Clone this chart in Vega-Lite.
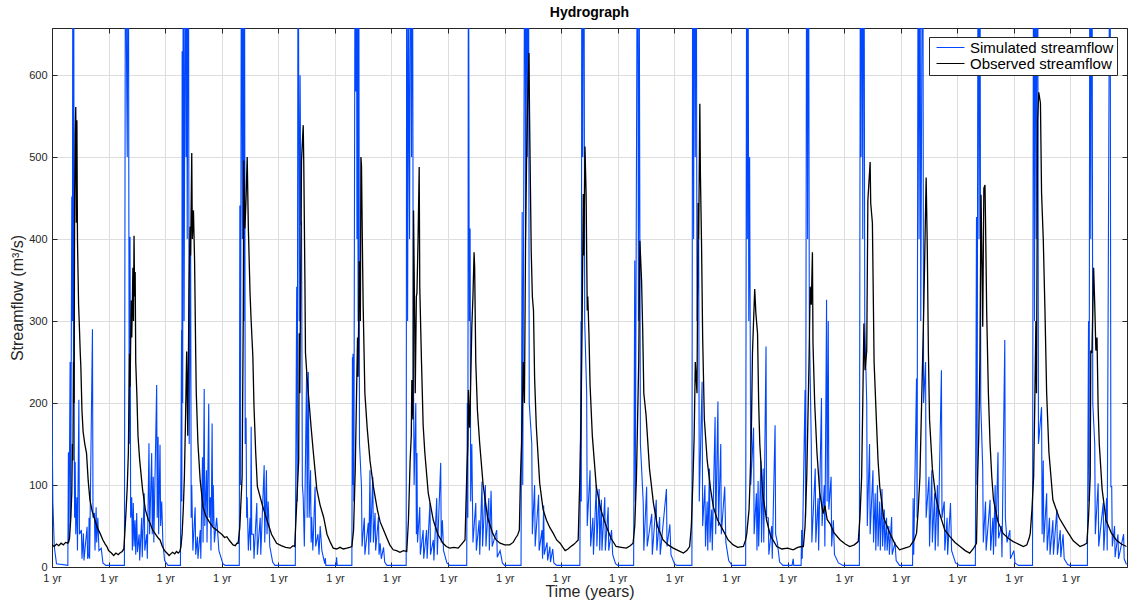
{
"$schema":"https://vega.github.io/schema/vega-lite/v6.json",
"width":1075,"height":539,
"autosize":{"type":"none"},
"padding":{"left":52,"top":28,"right":4,"bottom":38},
"background":"white",
"config":{
 "font":"Liberation Sans",
 "view":{"stroke":"#262626","strokeWidth":1},
 "axis":{"domainColor":"#262626","tickColor":"#262626","labelColor":"#262626","titleColor":"#262626","gridColor":"#dddddd","gridWidth":1,"tickSize":-5,"labelFontSize":11,"titleFontSize":16,"titleFontWeight":"normal","labelFont":"Liberation Sans","titleFont":"Liberation Sans","labelPadding":10,"labelFlush":false}
},
"title":{"text":"Hydrograph","fontSize":14,"fontWeight":"bold","color":"#000000","offset":8,"font":"Liberation Sans"},
"datasets":{
"sim":[
{"t":0,"q":200},{"t":0.015,"q":80},{"t":0.04,"q":25},{"t":0.08,"q":4},{"t":0.28,"q":2},{"t":0.29,"q":140},{"t":0.30,"q":30},{"t":0.32,"q":250},{"t":0.33,"q":60},{"t":0.35,"q":452},{"t":0.36,"q":300},{"t":0.37,"q":900},{"t":0.38,"q":200},{"t":0.385,"q":700},{"t":0.395,"q":120},{"t":0.40,"q":60},{"t":0.41,"q":128},{"t":0.42,"q":40},{"t":0.44,"q":85},{"t":0.45,"q":20},{"t":0.475,"q":204},{"t":0.485,"q":40},{"t":0.52,"q":45},{"t":0.53,"q":10},{"t":0.555,"q":41},{"t":0.565,"q":8},{"t":0.62,"q":49},{"t":0.63,"q":10},{"t":0.65,"q":15},{"t":0.655,"q":60},{"t":0.665,"q":10},{"t":0.715,"q":290},{"t":0.725,"q":60},{"t":0.75,"q":66},{"t":0.76,"q":20},{"t":0.78,"q":73},{"t":0.79,"q":30},{"t":0.81,"q":60},{"t":0.83,"q":20},{"t":0.87,"q":23},{"t":0.90,"q":5},{"t":0.95,"q":2},
{"t":1.28,"q":2},{"t":1.30,"q":900},{"t":1.315,"q":640},{"t":1.33,"q":500},{"t":1.348,"q":900},{"t":1.365,"q":150},{"t":1.379,"q":403},{"t":1.39,"q":60},{"t":1.409,"q":85},{"t":1.42,"q":20},{"t":1.437,"q":78},{"t":1.45,"q":25},{"t":1.467,"q":57},{"t":1.48,"q":15},{"t":1.497,"q":66},{"t":1.51,"q":18},{"t":1.54,"q":40},{"t":1.55,"q":8},{"t":1.585,"q":60},{"t":1.595,"q":12},{"t":1.63,"q":90},{"t":1.64,"q":20},{"t":1.674,"q":40},{"t":1.685,"q":10},{"t":1.714,"q":151},{"t":1.725,"q":40},{"t":1.762,"q":139},{"t":1.772,"q":40},{"t":1.79,"q":110},{"t":1.80,"q":30},{"t":1.85,"q":222},{"t":1.86,"q":60},{"t":1.875,"q":159},{"t":1.885,"q":40},{"t":1.909,"q":149},{"t":1.92,"q":50},{"t":1.939,"q":80},{"t":1.96,"q":30},{"t":1.99,"q":8},{"t":2.05,"q":2},
{"t":2.27,"q":2},{"t":2.29,"q":289},{"t":2.295,"q":80},{"t":2.30,"q":629},{"t":2.31,"q":200},{"t":2.32,"q":900},{"t":2.335,"q":300},{"t":2.36,"q":900},{"t":2.37,"q":500},{"t":2.38,"q":900},{"t":2.39,"q":400},{"t":2.41,"q":900},{"t":2.425,"q":150},{"t":2.45,"q":400},{"t":2.46,"q":60},{"t":2.47,"q":100},{"t":2.49,"q":20},{"t":2.53,"q":73},{"t":2.54,"q":15},{"t":2.57,"q":37},{"t":2.58,"q":10},{"t":2.62,"q":45},{"t":2.63,"q":10},{"t":2.66,"q":134},{"t":2.67,"q":30},{"t":2.69,"q":217},{"t":2.70,"q":50},{"t":2.73,"q":118},{"t":2.74,"q":30},{"t":2.77,"q":199},{"t":2.78,"q":60},{"t":2.80,"q":85},{"t":2.81,"q":20},{"t":2.83,"q":175},{"t":2.84,"q":50},{"t":2.85,"q":100},{"t":2.87,"q":30},{"t":2.91,"q":60},{"t":2.95,"q":20},{"t":3.02,"q":4},{"t":3.06,"q":2},
{"t":3.31,"q":2},{"t":3.32,"q":441},{"t":3.33,"q":100},{"t":3.35,"q":900},{"t":3.365,"q":400},{"t":3.38,"q":900},{"t":3.39,"q":300},{"t":3.40,"q":900},{"t":3.415,"q":150},{"t":3.43,"q":182},{"t":3.44,"q":60},{"t":3.45,"q":85},{"t":3.47,"q":20},{"t":3.50,"q":60},{"t":3.51,"q":20},{"t":3.52,"q":171},{"t":3.53,"q":40},{"t":3.56,"q":40},{"t":3.57,"q":10},{"t":3.62,"q":78},{"t":3.63,"q":15},{"t":3.68,"q":60},{"t":3.69,"q":15},{"t":3.75,"q":124},{"t":3.76,"q":30},{"t":3.79,"q":118},{"t":3.80,"q":40},{"t":3.82,"q":80},{"t":3.85,"q":25},{"t":3.90,"q":6},{"t":3.94,"q":2},
{"t":4.30,"q":2},{"t":4.325,"q":342},{"t":4.335,"q":80},{"t":4.35,"q":900},{"t":4.37,"q":300},{"t":4.385,"q":600},{"t":4.40,"q":419},{"t":4.41,"q":420},{"t":4.425,"q":100},{"t":4.44,"q":85},{"t":4.46,"q":25},{"t":4.50,"q":238},{"t":4.51,"q":60},{"t":4.53,"q":238},{"t":4.545,"q":60},{"t":4.57,"q":118},{"t":4.58,"q":30},{"t":4.59,"q":61},{"t":4.61,"q":20},{"t":4.65,"q":98},{"t":4.66,"q":25},{"t":4.70,"q":40},{"t":4.72,"q":15},{"t":4.74,"q":50},{"t":4.77,"q":20},{"t":4.82,"q":4},{"t":4.83,"q":11},{"t":4.84,"q":2},{"t":5.02,"q":2},{"t":5.03,"q":12},{"t":5.04,"q":2},
{"t":5.30,"q":2},{"t":5.31,"q":256},{"t":5.315,"q":100},{"t":5.32,"q":260},{"t":5.335,"q":80},{"t":5.36,"q":900},{"t":5.37,"q":580},{"t":5.38,"q":900},{"t":5.39,"q":400},{"t":5.40,"q":900},{"t":5.41,"q":300},{"t":5.42,"q":900},{"t":5.435,"q":150},{"t":5.47,"q":98},{"t":5.48,"q":25},{"t":5.52,"q":60},{"t":5.53,"q":15},{"t":5.59,"q":54},{"t":5.60,"q":15},{"t":5.62,"q":118},{"t":5.63,"q":30},{"t":5.67,"q":110},{"t":5.68,"q":30},{"t":5.71,"q":66},{"t":5.72,"q":20},{"t":5.77,"q":61},{"t":5.78,"q":15},{"t":5.80,"q":29},{"t":5.82,"q":10},{"t":5.86,"q":24},{"t":5.88,"q":6},{"t":5.92,"q":2},
{"t":6.26,"q":2},{"t":6.27,"q":900},{"t":6.285,"q":300},{"t":6.30,"q":700},{"t":6.32,"q":400},{"t":6.34,"q":900},{"t":6.355,"q":500},{"t":6.37,"q":900},{"t":6.385,"q":280},{"t":6.40,"q":100},{"t":6.43,"q":200},{"t":6.44,"q":40},{"t":6.45,"q":139},{"t":6.46,"q":30},{"t":6.50,"q":73},{"t":6.51,"q":15},{"t":6.56,"q":45},{"t":6.57,"q":10},{"t":6.62,"q":45},{"t":6.63,"q":10},{"t":6.68,"q":78},{"t":6.69,"q":15},{"t":6.74,"q":33},{"t":6.75,"q":8},{"t":6.80,"q":84},{"t":6.81,"q":15},{"t":6.87,"q":127},{"t":6.88,"q":30},{"t":6.90,"q":57},{"t":6.92,"q":20},{"t":6.98,"q":5},{"t":7.03,"q":2},
{"t":7.33,"q":2},{"t":7.34,"q":200},{"t":7.35,"q":60},{"t":7.36,"q":900},{"t":7.375,"q":300},{"t":7.39,"q":413},{"t":7.40,"q":80},{"t":7.42,"q":150},{"t":7.44,"q":30},{"t":7.49,"q":78},{"t":7.50,"q":20},{"t":7.55,"q":57},{"t":7.56,"q":15},{"t":7.60,"q":104},{"t":7.61,"q":25},{"t":7.66,"q":100},{"t":7.67,"q":25},{"t":7.72,"q":84},{"t":7.73,"q":20},{"t":7.76,"q":93},{"t":7.78,"q":25},{"t":7.86,"q":45},{"t":7.87,"q":12},{"t":7.92,"q":20},{"t":7.96,"q":5},{"t":8.00,"q":2},
{"t":8.29,"q":2},{"t":8.31,"q":433},{"t":8.32,"q":100},{"t":8.36,"q":900},{"t":8.37,"q":400},{"t":8.385,"q":900},{"t":8.40,"q":500},{"t":8.42,"q":900},{"t":8.435,"q":200},{"t":8.48,"q":150},{"t":8.49,"q":40},{"t":8.53,"q":100},{"t":8.54,"q":25},{"t":8.60,"q":88},{"t":8.61,"q":20},{"t":8.66,"q":45},{"t":8.67,"q":10},{"t":8.69,"q":75},{"t":8.70,"q":15},{"t":8.75,"q":30},{"t":8.76,"q":8},{"t":8.80,"q":25},{"t":8.81,"q":6},{"t":8.85,"q":22},{"t":8.87,"q":5},{"t":8.92,"q":2},
{"t":9.33,"q":2},{"t":9.35,"q":300},{"t":9.355,"q":80},{"t":9.365,"q":900},{"t":9.38,"q":500},{"t":9.40,"q":900},{"t":9.415,"q":300},{"t":9.45,"q":212},{"t":9.46,"q":50},{"t":9.51,"q":118},{"t":9.52,"q":25},{"t":9.56,"q":60},{"t":9.57,"q":15},{"t":9.62,"q":100},{"t":9.63,"q":25},{"t":9.67,"q":95},{"t":9.68,"q":20},{"t":9.71,"q":82},{"t":9.72,"q":20},{"t":9.77,"q":85},{"t":9.78,"q":20},{"t":9.83,"q":73},{"t":9.84,"q":20},{"t":9.89,"q":45},{"t":9.91,"q":15},{"t":9.96,"q":4},{"t":10.00,"q":2},
{"t":10.28,"q":2},{"t":10.30,"q":374},{"t":10.31,"q":80},{"t":10.35,"q":900},{"t":10.365,"q":300},{"t":10.38,"q":700},{"t":10.40,"q":150},{"t":10.45,"q":78},{"t":10.46,"q":20},{"t":10.51,"q":98},{"t":10.52,"q":25},{"t":10.60,"q":65},{"t":10.61,"q":15},{"t":10.68,"q":82},{"t":10.69,"q":20},{"t":10.74,"q":61},{"t":10.75,"q":15},{"t":10.86,"q":95},{"t":10.87,"q":25},{"t":10.92,"q":52},{"t":10.94,"q":15},{"t":11.00,"q":4},{"t":11.04,"q":2},
{"t":11.31,"q":2},{"t":11.325,"q":900},{"t":11.34,"q":400},{"t":11.355,"q":900},{"t":11.37,"q":500},{"t":11.385,"q":900},{"t":11.40,"q":300},{"t":11.43,"q":400},{"t":11.44,"q":80},{"t":11.49,"q":226},{"t":11.50,"q":50},{"t":11.54,"q":100},{"t":11.55,"q":25},{"t":11.58,"q":80},{"t":11.59,"q":20},{"t":11.62,"q":120},{"t":11.63,"q":30},{"t":11.66,"q":70},{"t":11.67,"q":20},{"t":11.72,"q":183},{"t":11.73,"q":40},{"t":11.77,"q":202},{"t":11.78,"q":50},{"t":11.82,"q":150},{"t":11.83,"q":40},{"t":11.89,"q":98},{"t":11.91,"q":30},{"t":11.96,"q":8},{"t":12.02,"q":2},
{"t":12.26,"q":2},{"t":12.28,"q":900},{"t":12.29,"q":400},{"t":12.30,"q":900},{"t":12.315,"q":300},{"t":12.33,"q":500},{"t":12.35,"q":100},{"t":12.40,"q":170},{"t":12.41,"q":40},{"t":12.45,"q":90},{"t":12.46,"q":20},{"t":12.48,"q":105},{"t":12.49,"q":25},{"t":12.53,"q":130},{"t":12.54,"q":30},{"t":12.57,"q":120},{"t":12.58,"q":30},{"t":12.62,"q":269},{"t":12.63,"q":60},{"t":12.66,"q":60},{"t":12.67,"q":15},{"t":12.72,"q":50},{"t":12.73,"q":10},{"t":12.78,"q":173},{"t":12.79,"q":40},{"t":12.82,"q":30},{"t":12.86,"q":6},{"t":12.92,"q":2},{"t":13.08,"q":2},{"t":13.10,"q":10},{"t":13.11,"q":2},
{"t":13.24,"q":2},{"t":13.25,"q":45},{"t":13.26,"q":10},{"t":13.31,"q":216},{"t":13.32,"q":60},{"t":13.34,"q":900},{"t":13.355,"q":400},{"t":13.37,"q":900},{"t":13.385,"q":300},{"t":13.42,"q":150},{"t":13.43,"q":30},{"t":13.49,"q":120},{"t":13.50,"q":30},{"t":13.54,"q":84},{"t":13.55,"q":20},{"t":13.60,"q":206},{"t":13.61,"q":50},{"t":13.65,"q":100},{"t":13.66,"q":25},{"t":13.69,"q":326},{"t":13.70,"q":80},{"t":13.72,"q":300},{"t":13.73,"q":70},{"t":13.77,"q":110},{"t":13.78,"q":25},{"t":13.81,"q":57},{"t":13.83,"q":15},{"t":13.90,"q":5},{"t":13.98,"q":2},
{"t":14.27,"q":2},{"t":14.29,"q":900},{"t":14.30,"q":500},{"t":14.315,"q":900},{"t":14.33,"q":400},{"t":14.35,"q":900},{"t":14.365,"q":300},{"t":14.40,"q":200},{"t":14.41,"q":50},{"t":14.45,"q":150},{"t":14.46,"q":40},{"t":14.51,"q":118},{"t":14.52,"q":30},{"t":14.55,"q":90},{"t":14.56,"q":20},{"t":14.59,"q":100},{"t":14.60,"q":25},{"t":14.63,"q":80},{"t":14.64,"q":20},{"t":14.67,"q":95},{"t":14.68,"q":25},{"t":14.71,"q":70},{"t":14.72,"q":20},{"t":14.75,"q":60},{"t":14.76,"q":20},{"t":14.79,"q":50},{"t":14.80,"q":15},{"t":14.84,"q":61},{"t":14.85,"q":15},{"t":14.90,"q":30},{"t":14.92,"q":8},{"t":14.98,"q":2},
{"t":15.21,"q":2},{"t":15.22,"q":84},{"t":15.23,"q":15},{"t":15.28,"q":230},{"t":15.29,"q":60},{"t":15.31,"q":900},{"t":15.325,"q":400},{"t":15.34,"q":900},{"t":15.355,"q":300},{"t":15.39,"q":900},{"t":15.405,"q":200},{"t":15.44,"q":250},{"t":15.45,"q":60},{"t":15.50,"q":110},{"t":15.51,"q":25},{"t":15.55,"q":118},{"t":15.56,"q":30},{"t":15.60,"q":90},{"t":15.61,"q":20},{"t":15.65,"q":100},{"t":15.66,"q":25},{"t":15.72,"q":240},{"t":15.73,"q":60},{"t":15.77,"q":80},{"t":15.78,"q":20},{"t":15.82,"q":60},{"t":15.83,"q":15},{"t":15.88,"q":78},{"t":15.90,"q":20},{"t":15.97,"q":5},{"t":16.04,"q":2},
{"t":16.32,"q":2},{"t":16.34,"q":427},{"t":16.35,"q":100},{"t":16.37,"q":900},{"t":16.385,"q":400},{"t":16.40,"q":900},{"t":16.415,"q":200},{"t":16.45,"q":120},{"t":16.46,"q":30},{"t":16.50,"q":80},{"t":16.51,"q":20},{"t":16.58,"q":82},{"t":16.59,"q":20},{"t":16.63,"q":60},{"t":16.64,"q":15},{"t":16.67,"q":100},{"t":16.68,"q":25},{"t":16.72,"q":140},{"t":16.73,"q":35},{"t":16.78,"q":50},{"t":16.79,"q":12},{"t":16.84,"q":277},{"t":16.85,"q":60},{"t":16.88,"q":30},{"t":16.93,"q":45},{"t":16.94,"q":10},{"t":17.00,"q":20},{"t":17.02,"q":5},{"t":17.08,"q":2},
{"t":17.33,"q":2},{"t":17.35,"q":900},{"t":17.365,"q":300},{"t":17.38,"q":900},{"t":17.395,"q":400},{"t":17.42,"q":900},{"t":17.435,"q":150},{"t":17.49,"q":195},{"t":17.50,"q":40},{"t":17.52,"q":130},{"t":17.53,"q":30},{"t":17.58,"q":90},{"t":17.59,"q":20},{"t":17.63,"q":60},{"t":17.64,"q":15},{"t":17.69,"q":57},{"t":17.70,"q":15},{"t":17.76,"q":70},{"t":17.77,"q":15},{"t":17.82,"q":45},{"t":17.83,"q":12},{"t":17.87,"q":40},{"t":17.89,"q":10},{"t":17.95,"q":3},{"t":17.99,"q":2},
{"t":18.30,"q":2},{"t":18.32,"q":300},{"t":18.33,"q":80},{"t":18.345,"q":900},{"t":18.36,"q":400},{"t":18.38,"q":900},{"t":18.395,"q":200},{"t":18.43,"q":150},{"t":18.44,"q":40},{"t":18.49,"q":102},{"t":18.50,"q":25},{"t":18.58,"q":78},{"t":18.59,"q":20},{"t":18.64,"q":84},{"t":18.65,"q":20},{"t":18.70,"q":900},{"t":18.715,"q":98},{"t":18.73,"q":98},{"t":18.74,"q":25},{"t":18.78,"q":50},{"t":18.79,"q":12},{"t":18.84,"q":40},{"t":18.85,"q":10},{"t":18.94,"q":40},{"t":18.95,"q":10},{"t":18.99,"q":3}
],
"obs":[
{"t":0,"q":27},{"t":0.04,"q":25},{"t":0.08,"q":28},{"t":0.12,"q":26},{"t":0.16,"q":29},{"t":0.20,"q":27},{"t":0.24,"q":30},{"t":0.28,"q":29},{"t":0.31,"q":35},{"t":0.33,"q":57},{"t":0.35,"q":90},{"t":0.36,"q":150},{"t":0.37,"q":130},{"t":0.38,"q":250},{"t":0.39,"q":200},{"t":0.40,"q":450},{"t":0.41,"q":530},{"t":0.42,"q":561},{"t":0.43,"q":420},{"t":0.44,"q":545},{"t":0.45,"q":400},{"t":0.47,"q":320},{"t":0.48,"q":301},{"t":0.50,"q":260},{"t":0.51,"q":244},{"t":0.53,"q":190},{"t":0.55,"q":165},{"t":0.58,"q":150},{"t":0.61,"q":139},{"t":0.64,"q":105},{"t":0.67,"q":82},{"t":0.71,"q":68},{"t":0.76,"q":57},{"t":0.80,"q":48},{"t":0.85,"q":41},{"t":0.90,"q":33},{"t":0.94,"q":28},{"t":0.97,"q":25},{"t":1.00,"q":20},{"t":1.05,"q":17},{"t":1.09,"q":14},{"t":1.13,"q":17},{"t":1.17,"q":15},{"t":1.20,"q":17},{"t":1.24,"q":19},{"t":1.27,"q":22},
{"t":1.29,"q":45},{"t":1.31,"q":70},{"t":1.33,"q":98},{"t":1.35,"q":140},{"t":1.37,"q":260},{"t":1.38,"q":220},{"t":1.40,"q":325},{"t":1.41,"q":280},{"t":1.43,"q":365},{"t":1.44,"q":300},{"t":1.45,"q":404},{"t":1.46,"q":330},{"t":1.47,"q":360},{"t":1.48,"q":250},{"t":1.50,"q":210},{"t":1.52,"q":160},{"t":1.55,"q":130},{"t":1.60,"q":95},{"t":1.65,"q":70},{"t":1.70,"q":58},{"t":1.73,"q":54},{"t":1.78,"q":45},{"t":1.83,"q":40},{"t":1.87,"q":36},{"t":1.91,"q":33},{"t":1.95,"q":25},{"t":1.99,"q":20},{"t":2.03,"q":17},{"t":2.07,"q":14},{"t":2.10,"q":16},{"t":2.13,"q":18},{"t":2.17,"q":16},{"t":2.20,"q":19},{"t":2.23,"q":17},{"t":2.26,"q":19},{"t":2.28,"q":25},{"t":2.30,"q":41},{"t":2.32,"q":70},{"t":2.34,"q":110},
{"t":2.36,"q":180},{"t":2.38,"q":263},{"t":2.40,"q":160},{"t":2.42,"q":330},{"t":2.44,"q":415},{"t":2.45,"q":380},{"t":2.47,"q":505},{"t":2.48,"q":400},{"t":2.50,"q":435},{"t":2.52,"q":374},{"t":2.54,"q":260},{"t":2.55,"q":212},{"t":2.58,"q":150},{"t":2.62,"q":105},{"t":2.67,"q":73},{"t":2.72,"q":62},{"t":2.78,"q":55},{"t":2.85,"q":48},{"t":2.91,"q":45},{"t":2.96,"q":42},{"t":3.00,"q":40},{"t":3.05,"q":36},{"t":3.09,"q":37},{"t":3.14,"q":32},{"t":3.20,"q":27},{"t":3.24,"q":26},{"t":3.27,"q":29},{"t":3.29,"q":29},{"t":3.32,"q":49},{"t":3.34,"q":80},{"t":3.36,"q":110},
{"t":3.38,"q":300},{"t":3.39,"q":496},{"t":3.41,"q":413},{"t":3.43,"q":450},{"t":3.45,"q":500},{"t":3.47,"q":415},{"t":3.50,"q":334},{"t":3.52,"q":300},{"t":3.55,"q":257},{"t":3.57,"q":196},{"t":3.60,"q":140},{"t":3.63,"q":98},{"t":3.72,"q":75},{"t":3.80,"q":57},{"t":3.88,"q":40},{"t":3.97,"q":29},{"t":4.05,"q":26},{"t":4.13,"q":24},{"t":4.21,"q":23},{"t":4.26,"q":26},{"t":4.29,"q":25},{"t":4.32,"q":70},{"t":4.34,"q":100},
{"t":4.36,"q":130},{"t":4.37,"q":285},{"t":4.38,"q":212},{"t":4.40,"q":400},{"t":4.41,"q":496},{"t":4.44,"q":539},{"t":4.45,"q":492},{"t":4.47,"q":350},{"t":4.48,"q":261},{"t":4.51,"q":230},{"t":4.53,"q":212},{"t":4.58,"q":170},{"t":4.62,"q":139},{"t":4.68,"q":95},{"t":4.74,"q":75},{"t":4.80,"q":61},{"t":4.86,"q":40},{"t":4.92,"q":30},{"t":4.97,"q":23},{"t":5.03,"q":22},{"t":5.09,"q":24},{"t":5.15,"q":22},{"t":5.21,"q":23},{"t":5.26,"q":24},{"t":5.30,"q":25},{"t":5.33,"q":45},{"t":5.36,"q":120},
{"t":5.38,"q":200},{"t":5.40,"q":280},{"t":5.41,"q":232},{"t":5.43,"q":373},{"t":5.45,"q":300},{"t":5.46,"q":500},{"t":5.47,"q":490},{"t":5.49,"q":370},{"t":5.50,"q":317},{"t":5.53,"q":212},{"t":5.57,"q":170},{"t":5.62,"q":130},{"t":5.68,"q":98},{"t":5.75,"q":70},{"t":5.80,"q":55},{"t":5.86,"q":45},{"t":5.92,"q":35},{"t":5.97,"q":27},{"t":6.03,"q":21},{"t":6.09,"q":20},{"t":6.15,"q":18},{"t":6.21,"q":20},{"t":6.27,"q":19},{"t":6.30,"q":57},{"t":6.33,"q":130},
{"t":6.35,"q":160},{"t":6.36,"q":228},{"t":6.38,"q":180},{"t":6.39,"q":435},{"t":6.41,"q":300},{"t":6.42,"q":212},{"t":6.44,"q":330},{"t":6.45,"q":334},{"t":6.47,"q":400},{"t":6.49,"q":488},{"t":6.50,"q":342},{"t":6.53,"q":252},{"t":6.56,"q":173},{"t":6.59,"q":139},{"t":6.65,"q":90},{"t":6.74,"q":57},{"t":6.82,"q":40},{"t":6.91,"q":29},{"t":6.97,"q":25},{"t":7.03,"q":23},{"t":7.10,"q":24},{"t":7.18,"q":23},{"t":7.24,"q":28},{"t":7.30,"q":33},{"t":7.33,"q":110},
{"t":7.35,"q":150},{"t":7.36,"q":216},{"t":7.38,"q":170},{"t":7.39,"q":190},{"t":7.42,"q":293},{"t":7.44,"q":330},{"t":7.46,"q":384},{"t":7.47,"q":366},{"t":7.49,"q":250},{"t":7.52,"q":190},{"t":7.56,"q":150},{"t":7.62,"q":100},{"t":7.70,"q":60},{"t":7.79,"q":41},{"t":7.85,"q":33},{"t":7.92,"q":29},{"t":8.00,"q":27},{"t":8.09,"q":27},{"t":8.15,"q":30},{"t":8.20,"q":36},{"t":8.23,"q":39},{"t":8.26,"q":45},{"t":8.28,"q":110},
{"t":8.30,"q":150},{"t":8.33,"q":250},{"t":8.35,"q":200},{"t":8.37,"q":400},{"t":8.39,"q":509},{"t":8.40,"q":545},{"t":8.43,"q":627},{"t":8.44,"q":552},{"t":8.45,"q":496},{"t":8.47,"q":385},{"t":8.49,"q":330},{"t":8.51,"q":313},{"t":8.53,"q":230},{"t":8.56,"q":171},{"t":8.62,"q":102},{"t":8.68,"q":70},{"t":8.74,"q":57},{"t":8.80,"q":48},{"t":8.86,"q":41},{"t":8.92,"q":33},{"t":8.98,"q":29},{"t":9.03,"q":24},{"t":9.07,"q":20},{"t":9.12,"q":22},{"t":9.17,"q":25},{"t":9.21,"q":27},{"t":9.26,"q":30},{"t":9.30,"q":33},{"t":9.33,"q":110},
{"t":9.35,"q":180},{"t":9.37,"q":300},{"t":9.39,"q":455},{"t":9.40,"q":380},{"t":9.42,"q":513},{"t":9.44,"q":455},{"t":9.46,"q":313},{"t":9.47,"q":330},{"t":9.49,"q":285},{"t":9.51,"q":222},{"t":9.55,"q":160},{"t":9.62,"q":98},{"t":9.70,"q":70},{"t":9.80,"q":49},{"t":9.88,"q":35},{"t":9.97,"q":25},{"t":10.06,"q":24},{"t":10.15,"q":23},{"t":10.22,"q":26},{"t":10.27,"q":29},{"t":10.30,"q":50},{"t":10.33,"q":110},
{"t":10.35,"q":180},{"t":10.37,"q":250},{"t":10.39,"q":398},{"t":10.42,"q":350},{"t":10.44,"q":290},{"t":10.46,"q":212},{"t":10.50,"q":185},{"t":10.56,"q":120},{"t":10.63,"q":78},{"t":10.70,"q":50},{"t":10.80,"q":33},{"t":10.89,"q":27},{"t":10.98,"q":23},{"t":11.07,"q":20},{"t":11.16,"q":17},{"t":11.22,"q":20},{"t":11.27,"q":25},{"t":11.30,"q":50},{"t":11.33,"q":110},
{"t":11.35,"q":160},{"t":11.37,"q":250},{"t":11.40,"q":212},{"t":11.42,"q":444},{"t":11.43,"q":400},{"t":11.45,"q":565},{"t":11.46,"q":480},{"t":11.48,"q":395},{"t":11.50,"q":280},{"t":11.53,"q":180},{"t":11.58,"q":130},{"t":11.64,"q":95},{"t":11.69,"q":73},{"t":11.76,"q":58},{"t":11.86,"q":45},{"t":11.95,"q":33},{"t":12.04,"q":27},{"t":12.12,"q":24},{"t":12.22,"q":25},{"t":12.26,"q":33},{"t":12.28,"q":41},{"t":12.32,"q":70},{"t":12.34,"q":110},
{"t":12.36,"q":160},{"t":12.38,"q":260},{"t":12.40,"q":300},{"t":12.42,"q":339},{"t":12.44,"q":310},{"t":12.47,"q":285},{"t":12.49,"q":200},{"t":12.51,"q":150},{"t":12.56,"q":90},{"t":12.63,"q":57},{"t":12.70,"q":38},{"t":12.81,"q":25},{"t":12.90,"q":22},{"t":13.00,"q":23},{"t":13.10,"q":21},{"t":13.18,"q":24},{"t":13.25,"q":25},{"t":13.28,"q":25},{"t":13.31,"q":50},{"t":13.34,"q":110},
{"t":13.36,"q":180},{"t":13.38,"q":250},{"t":13.40,"q":342},{"t":13.42,"q":320},{"t":13.44,"q":384},{"t":13.45,"q":273},{"t":13.48,"q":200},{"t":13.52,"q":140},{"t":13.57,"q":90},{"t":13.63,"q":65},{"t":13.66,"q":75},{"t":13.70,"q":58},{"t":13.75,"q":53},{"t":13.82,"q":42},{"t":13.93,"q":33},{"t":14.02,"q":28},{"t":14.10,"q":25},{"t":14.18,"q":27},{"t":14.25,"q":31},{"t":14.28,"q":60},{"t":14.31,"q":110},
{"t":14.33,"q":200},{"t":14.35,"q":297},{"t":14.37,"q":240},{"t":14.40,"q":264},{"t":14.42,"q":447},{"t":14.46,"q":494},{"t":14.47,"q":444},{"t":14.50,"q":420},{"t":14.53,"q":250},{"t":14.57,"q":180},{"t":14.60,"q":130},{"t":14.63,"q":98},{"t":14.70,"q":60},{"t":14.81,"q":41},{"t":14.90,"q":28},{"t":14.98,"q":21},{"t":15.07,"q":23},{"t":15.16,"q":25},{"t":15.24,"q":33},{"t":15.28,"q":41},{"t":15.31,"q":70},{"t":15.34,"q":110},
{"t":15.37,"q":200},{"t":15.39,"q":260},{"t":15.41,"q":322},{"t":15.43,"q":399},{"t":15.45,"q":475},{"t":15.47,"q":390},{"t":15.49,"q":261},{"t":15.51,"q":180},{"t":15.56,"q":120},{"t":15.62,"q":85},{"t":15.69,"q":65},{"t":15.78,"q":45},{"t":15.87,"q":37},{"t":15.96,"q":30},{"t":16.05,"q":25},{"t":16.14,"q":20},{"t":16.22,"q":17},{"t":16.28,"q":22},{"t":16.34,"q":29},{"t":16.36,"q":110},
{"t":16.38,"q":160},{"t":16.40,"q":250},{"t":16.42,"q":454},{"t":16.44,"q":350},{"t":16.45,"q":293},{"t":16.47,"q":462},{"t":16.49,"q":466},{"t":16.50,"q":420},{"t":16.52,"q":311},{"t":16.55,"q":212},{"t":16.58,"q":150},{"t":16.61,"q":110},{"t":16.64,"q":82},{"t":16.72,"q":55},{"t":16.81,"q":41},{"t":16.90,"q":35},{"t":16.99,"q":31},{"t":17.08,"q":28},{"t":17.17,"q":25},{"t":17.23,"q":27},{"t":17.27,"q":35},{"t":17.29,"q":41},{"t":17.32,"q":70},{"t":17.35,"q":110},
{"t":17.37,"q":200},{"t":17.39,"q":300},{"t":17.40,"q":212},{"t":17.42,"q":545},{"t":17.44,"q":579},{"t":17.47,"q":566},{"t":17.49,"q":456},{"t":17.52,"q":400},{"t":17.55,"q":313},{"t":17.58,"q":212},{"t":17.62,"q":140},{"t":17.69,"q":82},{"t":17.80,"q":60},{"t":17.93,"q":45},{"t":18.05,"q":32},{"t":18.17,"q":25},{"t":18.24,"q":27},{"t":18.29,"q":29},{"t":18.32,"q":60},{"t":18.35,"q":110},
{"t":18.36,"q":264},{"t":18.38,"q":261},{"t":18.41,"q":365},{"t":18.43,"q":320},{"t":18.45,"q":264},{"t":18.47,"q":280},{"t":18.49,"q":194},{"t":18.51,"q":150},{"t":18.56,"q":95},{"t":18.63,"q":57},{"t":18.72,"q":42},{"t":18.81,"q":33},{"t":18.90,"q":28},{"t":18.99,"q":25}
]
},
"layer":[
{"data":{"name":"sim"},
 "mark":{"type":"line","clip":true,"strokeWidth":1.1},
 "encoding":{
  "x":{"field":"t","type":"quantitative","scale":{"domain":[0,19],"nice":false,"zero":false},
       "axis":{"orient":"bottom","values":[0,1,2,3,4,5,6,7,8,9,10,11,12,13,14,15,16,17,18],"labelExpr":"'1 yr'","title":"Time (years)","grid":true,"titlePadding":0}},
  "y":{"field":"q","type":"quantitative","scale":{"domain":[0,657.5],"nice":false},
       "axis":{"orient":"left","values":[0,100,200,300,400,500,600],"title":"Streamflow (m³/s)","grid":true,"titlePadding":3}},
  "color":{"datum":"Simulated streamflow","type":"nominal",
       "scale":{"domain":["Simulated streamflow","Observed streamflow"],"range":["#0047ff","#000000"]},
       "legend":{"title":null,"orient":"none","legendX":877,"legendY":9,"fillColor":"white","strokeColor":"#262626","padding":3,"labelFontSize":15,"labelColor":"#000000","labelFont":"Liberation Sans","symbolType":"M-2.5,0L2.5,0","symbolSize":125,"symbolStrokeWidth":1,"symbolOffset":11,"labelOffset":12,"rowPadding":-2}}
 }},
{"data":{"name":"obs"},
 "mark":{"type":"line","clip":true,"strokeWidth":1.3},
 "encoding":{
  "x":{"field":"t","type":"quantitative",
       "axis":{"orient":"top","values":[0,1,2,3,4,5,6,7,8,9,10,11,12,13,14,15,16,17,18],"labels":false,"title":null,"grid":false}},
  "y":{"field":"q","type":"quantitative",
       "axis":{"orient":"right","values":[0,100,200,300,400,500,600],"labels":false,"title":null,"grid":false}},
  "color":{"datum":"Observed streamflow","type":"nominal"}
 }}
],
"resolve":{"axis":{"x":"independent","y":"independent"}}
}
